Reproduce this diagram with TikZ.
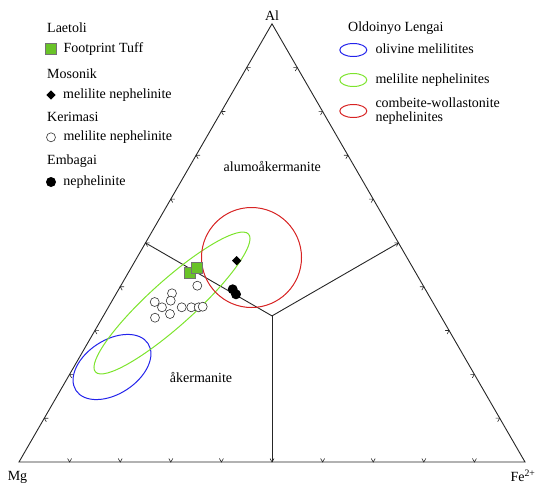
\documentclass[tikz,border=0pt]{standalone}
\usepackage{fontspec}
\setmainfont{Liberation Serif}
\usetikzlibrary{calc,positioning,shapes.geometric,decorations.markings}
\definecolor{olblue}{RGB}{35,35,235}
\definecolor{olgreen}{RGB}{125,228,45}
\definecolor{olred}{RGB}{215,35,35}
\definecolor{tuff}{RGB}{105,195,40}

\begin{document}
\begin{tikzpicture}[
x=1pt, y=-1pt,
font=\fontsize{14}{14.7}\selectfont,
 side/.style = {draw=black!85, line width=0.9pt},
ticked/.style = {postaction={decorate},% chevrons at every tenth of a side
                 decoration={markings,
                   mark=between positions 0.1 and 0.95 step 0.1 with
                   {\draw[black!85, line width=0.6pt] (-2pt,3.5pt) -- (0pt,0pt) -- (2pt,3.5pt);}}},
   Tf/.style = {rectangle, draw=black!55, fill=tuff, minimum size=11pt,
                inner sep=0pt, line width=0.6pt},% Laetoli
   Ms/.style = {diamond, fill=black, minimum size=9.5pt, inner sep=0pt},% Mosonik
   Kr/.style = {circle, draw=black!80, fill=white, minimum size=9pt,
                inner sep=0pt, line width=0.6pt},% Kerimasi
   Em/.style = {circle, fill=black, minimum size=10pt, inner sep=0pt},% Embagai
   OL/.style = {ellipse, draw=#1, line width=1pt, minimum width=27pt,
                minimum height=13pt, inner sep=0pt},% Oldoinyo Lengai fields
  txt/.style = {inner sep=0pt, text height=10pt, text depth=3pt},
                        ]
\useasboundingbox (0,0) rectangle (538,487);
% the ternary frame
\coordinate (Mg) at (19,462);
\coordinate (Fe) at (525,462);
\coordinate (Al) at (272,23.8);
\coordinate (C)  at (272,315.9);% centroid
\draw[side, line join=miter] (Mg) -- (Fe) -- (Al) -- cycle;
\foreach \a/\b in {Mg/Fe,Fe/Al,Al/Mg}{
    \path[ticked] (\a) -- coordinate[pos=.5] (mid\a) (\b);
    \draw[side] (C) -- (mid\a);
}
% fields of Oldoinyo Lengai
\draw[olblue, line width=1pt, rotate around={33:(112,367)}]
    (112,367) ellipse [x radius=43, y radius=27];
\draw[olgreen, line width=1pt, rotate around={42:(172,303)}]
    (172,303) ellipse [x radius=103, y radius=22.5];
\draw[olred, line width=1pt] (251.5,257.5) circle [radius=50];
% samples
\foreach \x/\y [count=\n] in {197.3/285.7, 172/293.3, 170.7/300.7, 154.7/302,
        162/307.3, 181.7/307.3, 191.3/307.3, 198.7/307.3, 202.7/306.7,
        155/317.7, 170/314}
    \node[Kr] (kr\n) at (\x,\y) {};
\node[Tf] (tf1) at (190,272.7) {};
\node[Tf] (tf2) at (196.7,267.3) {};
\node[Ms] (ms1) at (236.7,260.7) {};
\node[Em] (em1) at (232.7,289.3) {};
\node[Em] (em2) at (236,294.3) {};
% field and corner names
\node (alk) at (272.3,166) {alumoåkermanite};
\node (ak)  at (201,377) {åkermanite};
\node[above=3pt of Al, inner sep=0pt] (lAl) {Al};
\node (lMg) at (17.5,477) {Mg};
\node[anchor=west] (lFe) at (507,476) {Fe\textsuperscript{2+}};
% legend, left
\node[txt, anchor=base west] (laetoli) at (47,32.3) {Laetoli};
\node[Tf] (tfk) at (51,49.3) {};
\node[txt, right=6.5pt of tfk] (tft) {Footprint Tuff};
\node[txt, anchor=base west] (mosonik) at (47,78.3) {Mosonik};
\node[Ms] (msk) at (51,95) {};
\node[txt, right=7pt of msk] (mst) {melilite nephelinite};
\node[txt, anchor=base west] (kerimasi) at (47,121.7) {Kerimasi};
\node[Kr] (krk) at (51,137.3) {};
\node[txt, right=7.5pt of krk] (krt) {melilite nephelinite};
\node[txt, anchor=base west] (embagai) at (47,164) {Embagai};
\node[Em] (emk) at (51,182) {};
\node[txt, right=7pt of emk] (emt) {nephelinite};
% legend, right
\node[txt, anchor=base west] (lengai) at (348,31.3) {Oldoinyo Lengai};
\node[OL=olblue] (olk) at (353.3,50) {};
\node[txt, right=8pt of olk] (olt) {olivine melilitites};
\node[OL=olgreen] (mnk) at (353.3,80) {};
\node[txt, right=8pt of mnk] (mnt) {melilite nephelinites};
\node[OL=olred] (cwk) at (353.3,111) {};
\node[right=8pt of cwk, inner sep=0pt, align=left] (cwt)
    {combeite-wollastonite\\nephelinites};
\end{tikzpicture}
\end{document}
